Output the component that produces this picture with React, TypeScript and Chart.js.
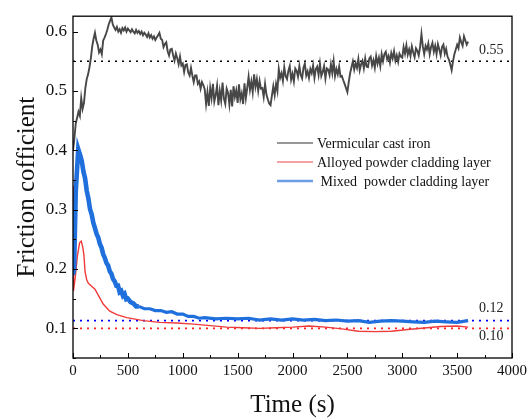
import React, { useEffect, useRef } from "react";
import { Chart, registerables } from "chart.js";

Chart.register(...registerables);

// ---------- data ----------
const BLACK_STEP = 12.5; // seconds between samples of the cast-iron record
const blackValues = [
  // 0 - 375 s
  0.400, 0.420, 0.445, 0.455, 0.465, 0.458, 0.488, 0.470, 0.480, 0.505,
  0.520, 0.528, 0.540, 0.555, 0.575, 0.588, 0.598, 0.585, 0.578, 0.565,
  0.570, 0.562, 0.585, 0.590, 0.596, 0.603, 0.612, 0.618, 0.624, 0.612,
  0.607,
  // 387.5 - 800 s
  0.603, 0.608, 0.600, 0.604, 0.598, 0.606, 0.602, 0.607, 0.600, 0.605,
  0.602, 0.599, 0.604, 0.600, 0.597, 0.603, 0.598, 0.601, 0.596, 0.600,
  0.594, 0.598, 0.595, 0.591, 0.597, 0.590, 0.594, 0.588, 0.592, 0.586,
  0.590, 0.594, 0.598, 0.588,
  // 812.5 - 1187.5 s
  0.586, 0.574, 0.579, 0.582, 0.567, 0.560, 0.570, 0.571, 0.560, 0.551,
  0.563, 0.555, 0.545, 0.558, 0.543, 0.546, 0.532, 0.544, 0.545, 0.531,
  0.526, 0.539, 0.526, 0.515, 0.526, 0.526, 0.512, 0.516, 0.504, 0.515,
  0.510,
  // 1200 - 1587.5 s
  0.503, 0.478, 0.498, 0.475, 0.505, 0.488, 0.512, 0.482, 0.493, 0.509,
  0.476, 0.500, 0.484, 0.514, 0.487, 0.478, 0.504, 0.497, 0.477, 0.502,
  0.474, 0.508, 0.490, 0.501, 0.480, 0.511, 0.486, 0.496, 0.478, 0.513,
  0.488, 0.505,
  // 1600 - 1712.5 s
  0.524, 0.502, 0.516, 0.498, 0.528, 0.507, 0.520, 0.500, 0.517, 0.504,
  // 1725 - 1862.5 s
  0.505, 0.490, 0.512, 0.494, 0.486, 0.479, 0.476, 0.492, 0.508, 0.493,
  0.512, 0.500,
  // 1875 - 2462.5 s
  0.537, 0.522, 0.530, 0.517, 0.540, 0.525, 0.520, 0.534, 0.542, 0.519,
  0.529, 0.516, 0.538, 0.534, 0.524, 0.542, 0.527, 0.521, 0.539, 0.546,
  0.526, 0.533, 0.522, 0.537, 0.530, 0.543, 0.522, 0.537, 0.541, 0.527,
  0.546, 0.525, 0.532, 0.542, 0.521, 0.538, 0.536, 0.527, 0.545, 0.530,
  0.550, 0.525, 0.537, 0.528, 0.541, 0.524, 0.525, 0.518,
  // 2475 - 2537.5 s
  0.512, 0.505, 0.498, 0.515, 0.530, 0.540,
  // 2550 - 2812.5 s
  0.550, 0.536, 0.547, 0.539, 0.554, 0.535, 0.545, 0.551, 0.538, 0.555,
  0.541, 0.540, 0.555, 0.558, 0.543, 0.552, 0.539, 0.559, 0.546, 0.556,
  0.542, 0.562,
  // 2825 - 3162.5 s
  0.550, 0.562, 0.566, 0.553, 0.559, 0.548, 0.564, 0.555, 0.567, 0.551,
  0.560, 0.549, 0.563, 0.558, 0.556, 0.574, 0.563, 0.577, 0.561, 0.570,
  0.559, 0.575, 0.565, 0.557, 0.572, 0.568, 0.560, 0.574,
  // 3175 - 3600 s
  0.596, 0.575, 0.562, 0.576, 0.570, 0.580, 0.562, 0.574, 0.581, 0.566,
  0.576, 0.562, 0.579, 0.570, 0.560, 0.574, 0.578, 0.563, 0.571, 0.558,
  0.553, 0.545, 0.535, 0.550, 0.562, 0.570, 0.578, 0.572, 0.590, 0.582,
  0.576, 0.592, 0.585, 0.578, 0.583,
];

const redTimes = [
  0, 3, 6, 20, 40, 60, 75, 90, 100, 110, 125, 140, 170, 200, 230, 275, 335,
  400, 490, 640, 790, 945, 1100, 1250, 1400, 1550, 1700, 1850, 2000, 2150,
  2300, 2450, 2600, 2750, 2900, 3050, 3200, 3350, 3500, 3600,
];
const redValues = [
  0.340, 0.250, 0.163, 0.185, 0.222, 0.244, 0.247, 0.236, 0.222, 0.195,
  0.182, 0.176, 0.171, 0.166, 0.156, 0.141, 0.129, 0.123, 0.118, 0.113,
  0.110, 0.109, 0.107, 0.1045, 0.102, 0.101, 0.100, 0.101, 0.102, 0.104,
  0.102, 0.099, 0.095, 0.0945, 0.095, 0.098, 0.1005, 0.103, 0.104, 0.102,
];

const blueTimes = [
  0, 10, 25, 48, 65, 80, 95, 110, 125, 140, 155, 170, 185, 200, 215, 230,
  245, 260, 275, 290, 305, 320, 335, 350, 365, 380, 395, 410, 425, 440, 455,
  470, 485, 500, 525, 550, 575, 600, 650, 700, 750, 800, 850, 900, 950, 1000,
  1050, 1100, 1150, 1200, 1300, 1400, 1500, 1600, 1700, 1800, 1900, 2000,
  2100, 2200, 2300, 2400, 2500, 2600, 2700, 2800, 2900, 3000, 3100, 3200,
  3300, 3400, 3500, 3600,
];
const blueValues = [
  0.190, 0.200, 0.330, 0.402, 0.392, 0.382, 0.364, 0.353, 0.332, 0.319,
  0.301, 0.292, 0.278, 0.269, 0.259, 0.253, 0.242, 0.236, 0.225, 0.219,
  0.210, 0.206, 0.196, 0.192, 0.183, 0.179, 0.172, 0.172, 0.161, 0.163,
  0.155, 0.158, 0.149, 0.150, 0.144, 0.142, 0.137, 0.137, 0.133, 0.133,
  0.130, 0.130, 0.127, 0.128, 0.124, 0.124, 0.120, 0.120, 0.117, 0.118,
  0.116, 0.117, 0.116, 0.117, 0.114, 0.116, 0.114, 0.116, 0.114, 0.115,
  0.113, 0.114, 0.112, 0.113, 0.110, 0.112, 0.113, 0.112, 0.111, 0.110,
  0.112, 0.111, 0.110, 0.113,
];

const seriesNames = [
  "Vermicular cast iron",
  "Alloyed powder cladding layer",
  " Mixed  powder cladding layer",
];
const refValues = [0.55, 0.113, 0.1];
const refLabels = ["0.55", "0.12", "0.10"];
const xTicks = [0, 500, 1000, 1500, 2000, 2500, 3000, 3500, 4000];
const yTicks = [0.1, 0.2, 0.3, 0.4, 0.5, 0.6];
const X_MIN = 0;
const X_MAX = 4000;
const Y_MIN = 0.05;
const Y_MAX = 0.626;
const xTitle = "Time (s)";
const yTitle = "Friction cofficient";

// ---------- styles ----------
const SERIF = "'Liberation Serif', 'Times New Roman', serif";
const BLACK = "#474747";
const RED = "#f03a3a";
const BLUE = "#1f6fdc";
const refColors = ["#000000", "#0000ff", "#ff2020"];
const legendColors = ["#333333", "#f04646", "#6f9ee8"];
const legendWidths = [1, 1.2, 2.4];

const overlay = {
  id: "overlay",
  afterDraw(chart: any) {
    const { ctx, chartArea, scales } = chart;
    const { left, right, top, bottom } = chartArea;
    const x = scales.x;
    const y = scales.y;
    ctx.save();
    // frame
    ctx.strokeStyle = "#000";
    ctx.lineWidth = 1.3;
    ctx.strokeRect(left, top, right - left, bottom - top);
    // inward ticks
    ctx.lineWidth = 1;
    ctx.beginPath();
    for (let v = X_MIN; v <= X_MAX; v += 250) {
      const px = Math.round(x.getPixelForValue(v)) + 0.5;
      const len = v % 500 === 0 ? 5 : 3;
      ctx.moveTo(px, bottom);
      ctx.lineTo(px, bottom - len);
    }
    for (let k = 1; k <= 12; k++) {
      const v = k * 0.05;
      if (v > Y_MAX) break;
      const py = Math.round(y.getPixelForValue(v)) + 0.5;
      const len = k % 2 === 0 ? 5 : 3;
      ctx.moveTo(left, py);
      ctx.lineTo(left + len, py);
    }
    ctx.stroke();

    // reference labels
    ctx.fillStyle = "#222";
    ctx.font = `14px ${SERIF}`;
    ctx.textBaseline = "middle";
    ctx.textAlign = "left";
    const labelOffsets = [-11, -12, 8];
    refValues.forEach((v, i) => {
      ctx.fillText(refLabels[i], 479, y.getPixelForValue(v) + labelOffsets[i]);
    });

    // legend
    ctx.font = `14px ${SERIF}`;
    seriesNames.forEach((name, i) => {
      const ly = 143 + i * 19;
      ctx.strokeStyle = legendColors[i];
      ctx.lineWidth = legendWidths[i];
      ctx.beginPath();
      ctx.moveTo(277, ly);
      ctx.lineTo(313, ly);
      ctx.stroke();
      ctx.fillStyle = "#111";
      ctx.fillText(name, 317, ly + 1);
    });

    // axis titles
    ctx.fillStyle = "#111";
    ctx.font = `25px ${SERIF}`;
    ctx.textAlign = "center";
    ctx.fillText(xTitle, (left + right) / 2, 405);
    ctx.translate(27, (top + bottom) / 2);
    ctx.rotate(-Math.PI / 2);
    ctx.fillText(yTitle, 0, 0);
    ctx.restore();
  },
};

export default function App() {
  const ref = useRef<HTMLCanvasElement | null>(null);

  useEffect(() => {
    if (!ref.current) return;
    const black = blackValues.map((v, i) => ({ x: i * BLACK_STEP, y: v }));
    const red = redValues.map((v, i) => ({ x: redTimes[i], y: v }));
    const blue = blueValues.map((v, i) => ({ x: blueTimes[i], y: v }));
    const refs = refValues.map((v, i) => ({
      data: [
        { x: X_MIN, y: v },
        { x: X_MAX, y: v },
      ],
      borderColor: refColors[i],
      borderWidth: 1.6,
      borderDash: [2, 5],
      pointRadius: 0,
      order: 5,
    }));

    const chart = new Chart(ref.current, {
      type: "line",
      data: {
        datasets: [
          { data: black, borderColor: BLACK, borderWidth: 1.9, pointRadius: 0, order: 1 },
          {
            data: blue,
            borderColor: BLUE,
            borderWidth: 3.4,
            pointRadius: 0,
            order: 2,
            segment: {
              borderWidth: (c: any) => (c.p0.parsed.x < 600 ? 4.6 : 3.2),
            },
          },
          { data: red, borderColor: RED, borderWidth: 1.4, pointRadius: 0, order: 3 },
          ...refs,
        ] as any,
      },
      options: {
        animation: false,
        responsive: false,
        devicePixelRatio: 1,
        layout: { padding: { left: 0, top: 12, right: 20, bottom: 0 } },
        plugins: { legend: { display: false }, tooltip: { enabled: false } },
        elements: { line: { tension: 0 } },
        scales: {
          x: {
            type: "linear",
            min: X_MIN,
            max: X_MAX,
            afterFit: (s: any) => {
              s.height = 61;
            },
            afterBuildTicks: (s: any) => {
              s.ticks = xTicks.map((v) => ({ value: v }));
            },
            grid: { display: false, drawTicks: false },
            border: { display: false },
            ticks: {
              padding: 4,
              color: "#111",
              font: { family: SERIF, size: 15 },
              maxRotation: 0,
              autoSkip: false,
              callback: (v: any) => String(v),
            },
          },
          y: {
            type: "linear",
            min: Y_MIN,
            max: Y_MAX,
            afterFit: (s: any) => {
              s.width = 73;
            },
            afterBuildTicks: (s: any) => {
              s.ticks = yTicks.map((v) => ({ value: v }));
            },
            grid: { display: false, drawTicks: false },
            border: { display: false },
            ticks: {
              padding: 6,
              color: "#111",
              font: { family: SERIF, size: 17 },
              autoSkip: false,
              callback: (v: any) => Number(v).toFixed(1),
            },
          },
        },
      },
      plugins: [overlay],
    });
    return () => chart.destroy();
  }, []);

  return (
    <div style={{ position: "fixed", left: 0, top: 0, width: 532, height: 419, background: "#fff" }}>
      <canvas ref={ref} width={532} height={419} style={{ display: "block" }} />
    </div>
  );
}
